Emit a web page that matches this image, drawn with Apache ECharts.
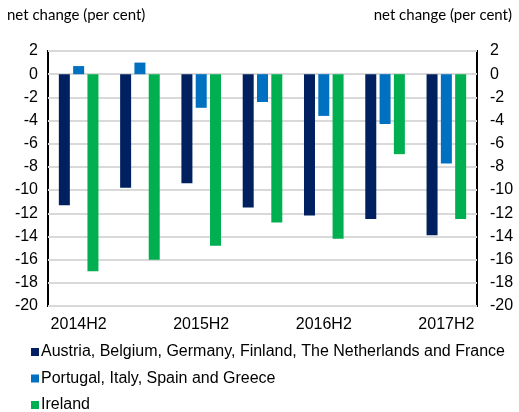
<!DOCTYPE html>
<html>
<head>
<meta charset="utf-8">
<script src="https://cdn.jsdelivr.net/npm/echarts@6/dist/echarts.min.js"></script>
<style>
  html, body { margin: 0; padding: 0; background: #fff; }
  #main { width: 519px; height: 412px; }
</style>
</head>
<body>
<div id="main"></div>
<script>
// half-years
var periods = ['2014H2', '2015H1', '2015H2', '2016H1', '2016H2', '2017H1', '2017H2'];
// net change (per cent)
var coreEuro = [-11.3, -9.8, -9.4, -11.5, -12.2, -12.5, -13.9];
var southEuro = [0.7, 1.0, -2.9, -2.4, -3.6, -4.3, -7.7];
var ireland = [-17.0, -16.0, -14.8, -12.8, -14.2, -6.9, -12.5];
var seriesNames = [
  'Austria, Belgium, Germany, Finland, The Netherlands and France',
  'Portugal, Italy, Spain and Greece',
  'Ireland'
];

var tickFont = { fontFamily: 'Liberation Sans', fontSize: 16, color: '#000' };

var myChart = echarts.init(document.getElementById('main'));
var option = {
  animation: false,
  color: ['#002060', '#0070C0', '#00B050'],
  title: [
    { text: 'net change (per cent)', left: 2, top: 3,
      textStyle: { fontFamily: 'Lato', fontSize: 15, fontWeight: 'normal', color: '#000' } },
    { text: 'net change (per cent)', right: 2, top: 3,
      textStyle: { fontFamily: 'Lato', fontSize: 15, fontWeight: 'normal', color: '#000' } }
  ],
  grid: {
    left: 48, right: 42, top: 51, height: 255,
    show: true, borderColor: '#000', borderWidth: 2
  },
  legend: {
    orient: 'vertical', left: 31, top: 344, height: 90,
    padding: 0,
    itemWidth: 8, itemHeight: 8, itemGap: 10.5, icon: 'rect',
    textStyle: { fontFamily: 'Liberation Sans', fontSize: 16, color: '#000', padding: [0, 0, 0, -3] },
    data: seriesNames
  },
  xAxis: {
    type: 'category',
    data: periods,
    position: 'bottom',
    axisLine: { show: false },
    axisTick: { show: false },
    axisLabel: Object.assign({ interval: 1, margin: 11 }, tickFont)
  },
  yAxis: [
    {
      type: 'value', min: -20, max: 2, interval: 2,
      axisLine: { show: false }, axisTick: { show: false },
      axisLabel: Object.assign({ margin: 10 }, tickFont),
      splitLine: { lineStyle: { color: '#d9d9d9', width: 2 } }
    },
    {
      type: 'value', min: -20, max: 2, interval: 2, position: 'right',
      axisLine: { show: false }, axisTick: { show: false },
      axisLabel: Object.assign({ margin: 13 }, tickFont),
      splitLine: { show: false }
    }
  ],
  series: [
    { name: seriesNames[0], type: 'bar', data: coreEuro, barWidth: 11, barGap: '30%' },
    { name: seriesNames[1], type: 'bar', data: southEuro, barWidth: 11, barGap: '30%' },
    { name: seriesNames[2], type: 'bar', data: ireland, barWidth: 11, barGap: '30%' }
  ]
};
myChart.setOption(option);
</script>
</body>
</html>
